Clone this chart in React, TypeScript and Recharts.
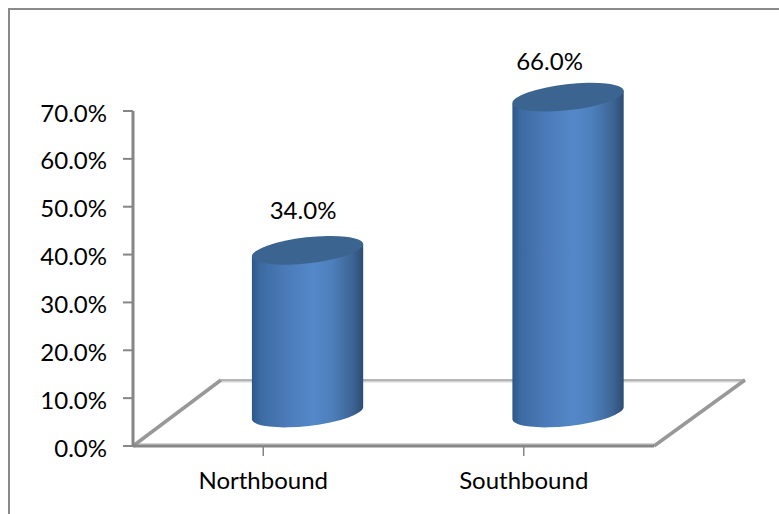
import React from "react";
import { BarChart, Bar, XAxis, YAxis, LabelList, Customized, usePlotArea } from "recharts";

const directions = ["Northbound", "Southbound"];
const shares = [34, 66];
const yTicks = [0, 10, 20, 30, 40, 50, 60, 70];

const data = directions.map((name, i) => ({ name, share: shares[i] }));

const FONT = "Lato, Carlito, sans-serif";
const FONT_SIZE = 24;
const AXIS = "#868686";
// the 3D look: columns stand in the middle of a floor that recedes up and right
const DEPTH_X = 44.5;
const DEPTH_Y = -33;
const TILT = -6.5;
const RX = 56;
const RY = 13;
const labelNudge = [
  { dx: 40, dy: -74 },
  { dx: 26, dy: -70 },
];

function Cylinder(props: any) {
  const { x, y, width, height } = props;
  const cx = x + width / 2 + DEPTH_X;
  const top = y + DEPTH_Y;
  const bottom = y + height + DEPTH_Y;
  const rad = (TILT * Math.PI) / 180;
  const ex = RX * Math.cos(rad);
  const ey = RX * Math.sin(rad);
  const body = `M ${cx - ex} ${top - ey} L ${cx - ex} ${bottom - ey} A ${RX} ${RY} ${TILT} 0 0 ${cx + ex} ${bottom + ey} L ${cx + ex} ${top + ey} Z`;
  return (
    <g>
      <path d={body} fill="url(#cylinderBody)" />
      <ellipse cx={cx} cy={top} rx={RX} ry={RY} fill="#3c6491" transform={`rotate(${TILT} ${cx} ${top})`} />
    </g>
  );
}

function Floor() {
  const plot = usePlotArea();
  if (!plot) return null;
  const left = plot.x;
  const bottom = plot.y + plot.height;
  const right = left + plot.width;
  const backY = bottom - 66;
  return (
    <g fill="none">
      <path d={`M ${left} ${bottom - 2} L ${right} ${bottom - 2}`} stroke="#d4d4d4" strokeWidth={2} />
      <path d={`M ${left + 88} ${backY + 1} L ${right + 91} ${backY + 1}`} stroke="#d4d4d4" strokeWidth={3} />
      <path d={`M ${left + 88} ${backY} L ${right + 91} ${backY}`} stroke="#a6a6a6" strokeWidth={1.5} />
      <path d={`M ${left} ${bottom} L ${left + 88} ${backY}`} stroke="#989898" strokeWidth={3.5} />
      <path d={`M ${right} ${bottom} L ${right + 91} ${backY}`} stroke="#989898" strokeWidth={3.5} />
    </g>
  );
}

function PercentLabel(props: any) {
  const { x, y, width, index, value } = props;
  const nudge = labelNudge[index];
  return (
    <text x={x + width / 2 + nudge.dx} y={y + nudge.dy} textAnchor="middle" dominantBaseline="central" fontFamily={FONT} fontSize={FONT_SIZE} fill="#000">
      {`${value.toFixed(1)}%`}
    </text>
  );
}

export default function App() {
  return (
    <div style={{ position: "absolute", left: 0, top: 0, width: 779, height: 514, background: "#fff", overflow: "hidden" }}>
      <div style={{ position: "absolute", left: 8, top: 8, width: 771, height: 506, borderLeft: "2px solid #8a8a8a", borderTop: "2px solid #8a8a8a" }} />
      <BarChart
        width={779}
        height={514}
        data={data}
        margin={{ top: 111, right: 125, bottom: 28, left: 33 }}
        barCategoryGap="29%"
        style={{ position: "absolute", left: 0, top: 0 }}
      >
        <defs>
          <linearGradient id="cylinderBody" x1="0" y1="0" x2="1" y2="0">
            <stop offset="0%" stopColor="#2d5788" />
            <stop offset="8%" stopColor="#3c6ba3" />
            <stop offset="30%" stopColor="#4a7ab8" />
            <stop offset="55%" stopColor="#5588c9" />
            <stop offset="72%" stopColor="#4d7fbc" />
            <stop offset="90%" stopColor="#3e6595" />
            <stop offset="100%" stopColor="#2d4c74" />
          </linearGradient>
        </defs>
        <Customized component={Floor} />
        <XAxis
          dataKey="name"
          height={40}
          tickSize={10}
          tickMargin={16}
          axisLine={{ stroke: AXIS, strokeWidth: 3 }}
          tickLine={{ stroke: AXIS, strokeWidth: 1.5 }}
          tick={{ fontFamily: FONT, fontSize: FONT_SIZE, fill: "#000" }}
        />
        <YAxis
          width={100}
          domain={[0, 70]}
          ticks={yTicks}
          tickSize={10}
          tickMargin={16}
          tickFormatter={(v: number) => `${v.toFixed(1)}%`}
          axisLine={{ stroke: AXIS, strokeWidth: 3 }}
          tickLine={{ stroke: AXIS, strokeWidth: 2 }}
          tick={{ fontFamily: FONT, fontSize: FONT_SIZE, fill: "#000", dy: 2 }}
        />
        <Bar dataKey="share" shape={Cylinder} isAnimationActive={false}>
          <LabelList dataKey="share" content={PercentLabel} />
        </Bar>
      </BarChart>
    </div>
  );
}
